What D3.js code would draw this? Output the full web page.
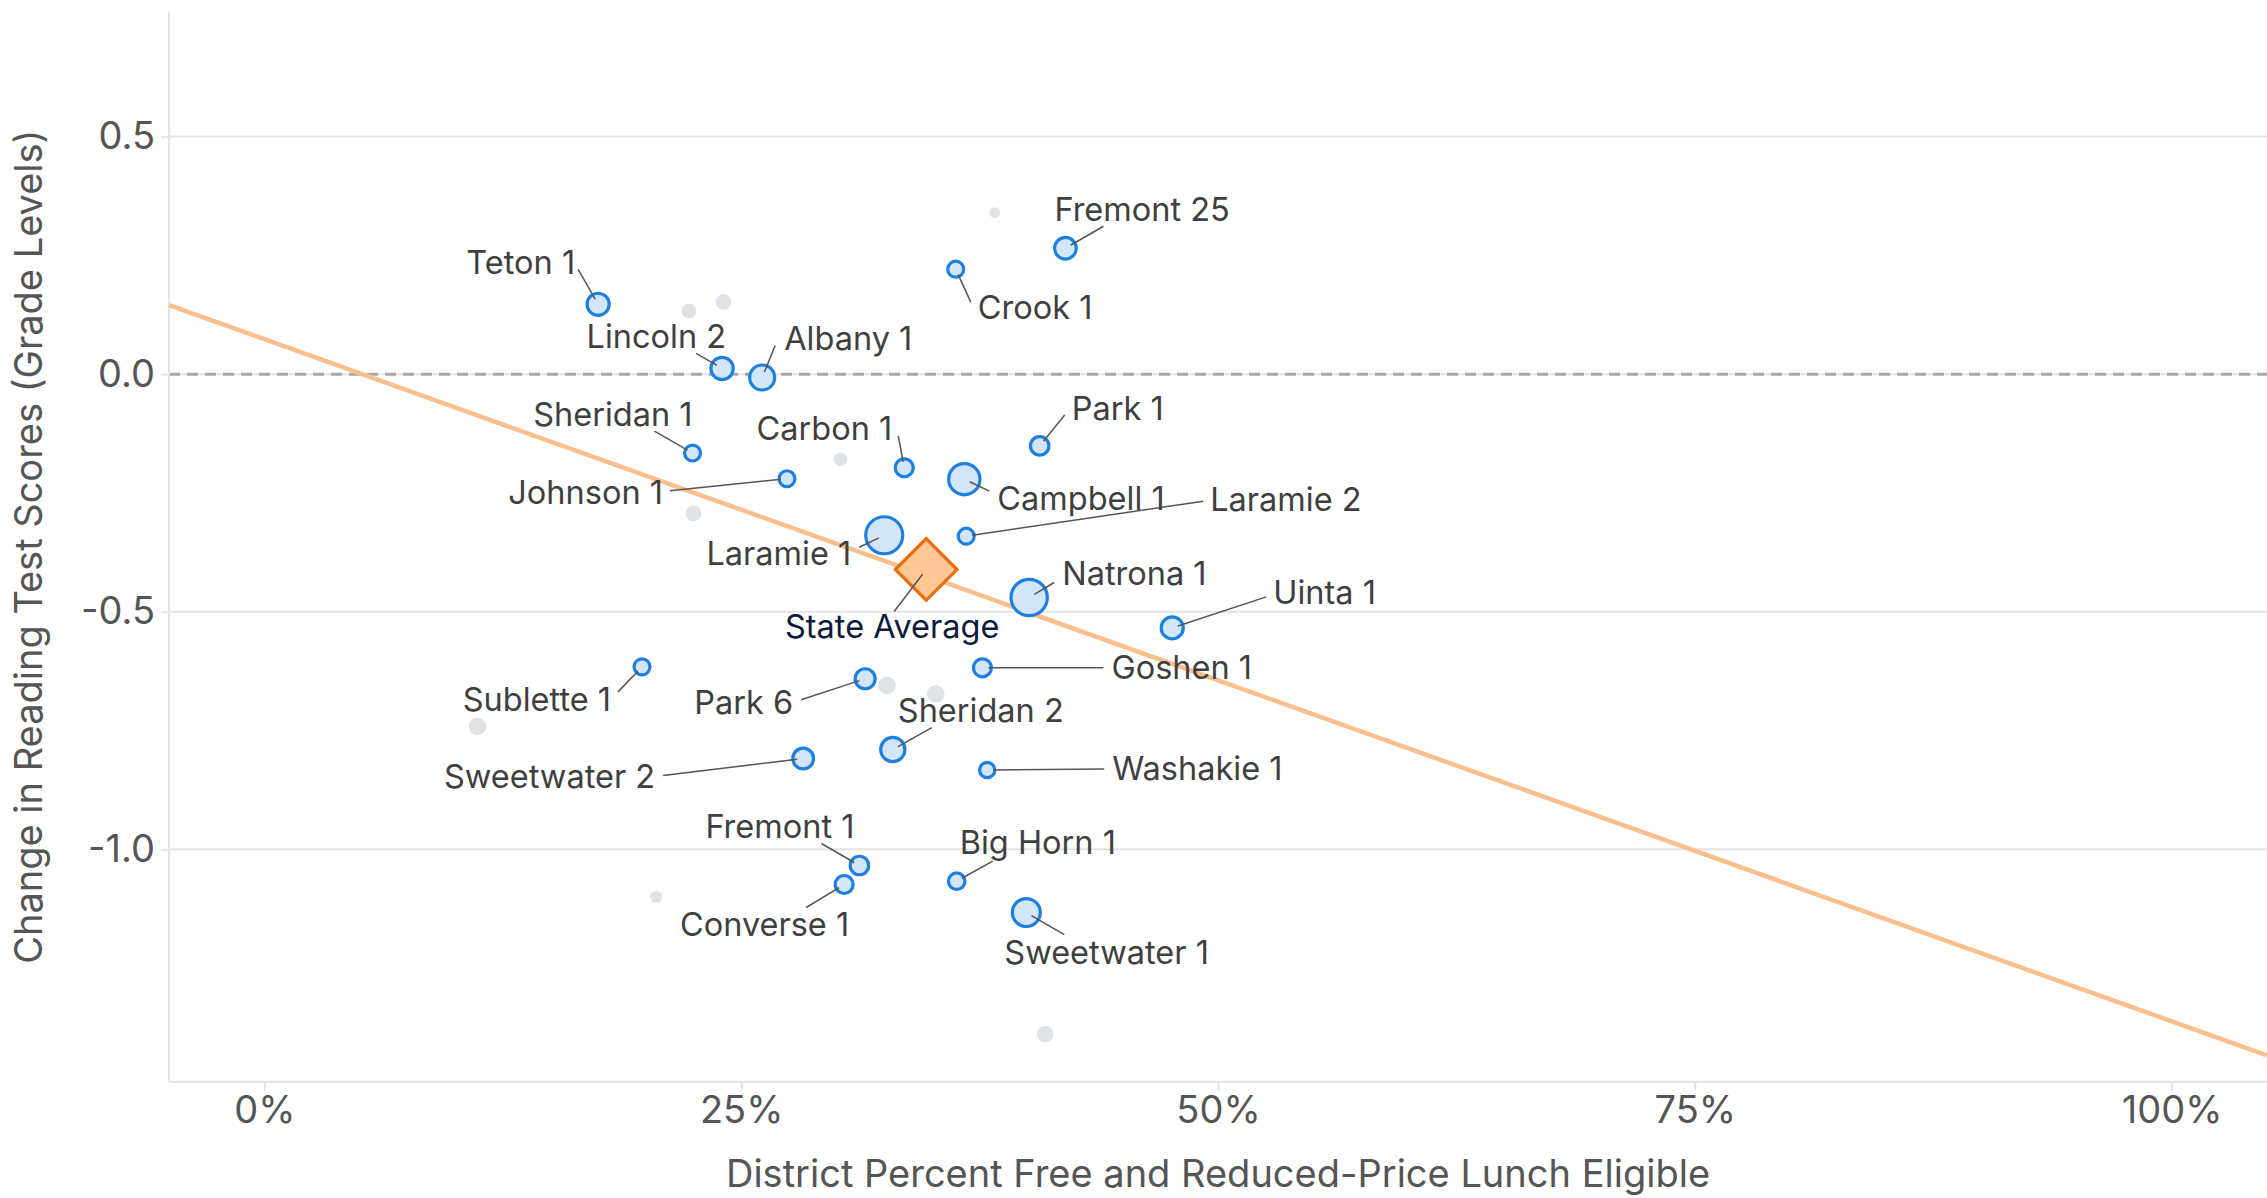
<!DOCTYPE html>
<html>
<head>
<meta charset="utf-8">
<title>Reading score change vs FRL</title>
<script src="https://d3js.org/d3.v7.min.js"></script>
<style>
  body { margin: 0; background: #fff; font-family: Inter, "Noto Sans", sans-serif; }
  svg { display: block; }
  .tick text { font-family: Inter, sans-serif; font-size: 38px; fill: #555; }
  .axis-title { font-size: 38px; fill: #555; }
  .lbl { font-size: 32.5px; fill: #3f3f3f; }
</style>
</head>
<body>
<div id="chart"></div>
<script>
// labelled districts
var districts = ["Teton 1", "Lincoln 2", "Albany 1", "Sheridan 1", "Johnson 1", "Carbon 1",
  "Crook 1", "Fremont 25", "Park 1", "Campbell 1", "Laramie 2", "Laramie 1", "Natrona 1",
  "Uinta 1", "Goshen 1", "Washakie 1", "Sheridan 2", "Park 6", "Sublette 1", "Sweetwater 2",
  "Fremont 1", "Converse 1", "Big Horn 1", "Sweetwater 1"];
var frl = [0.175, 0.240, 0.261, 0.2245, 0.274, 0.3355,
  0.3625, 0.420, 0.4065, 0.367, 0.368, 0.325, 0.401,
  0.476, 0.3765, 0.379, 0.3295, 0.315, 0.198, 0.2825,
  0.312, 0.304, 0.363, 0.3995];
var scoreChange = [0.147, 0.012, -0.007, -0.166, -0.220, -0.197,
  0.221, 0.265, -0.151, -0.221, -0.341, -0.339, -0.470,
  -0.534, -0.618, -0.833, -0.790, -0.641, -0.616, -0.809,
  -1.034, -1.074, -1.067, -1.133];
var enrollment = [5000, 5100, 6400, 2600, 2600, 3300,
  2600, 4800, 3500, 10000, 2600, 14000, 13500,
  5000, 3300, 2400, 6000, 4100, 2600, 4400,
  3500, 3300, 2800, 8000];

// other (unlabelled) districts
var otherFrl = [0.383, 0.2226, 0.2407, 0.302, 0.225, 0.3265, 0.352, 0.1118, 0.2054, 0.4094];
var otherChange = [0.340, 0.133, 0.152, -0.179, -0.293, -0.655, -0.673, -0.741, -1.100, -1.389];
var otherEnrollment = [1200, 2200, 2500, 1900, 2500, 3200, 3200, 3200, 1500, 2800];

// state average and fitted trend
var stateFrl = 0.347;
var stateChange = -0.411;
var trendIntercept = 0.0736;
var trendSlope = -1.4355;

var xTicks = [0, 0.25, 0.5, 0.75, 1];
var yTicks = [0.5, 0, -0.5, -1.0];

var width = 2267, height = 1198;
var plotLeft = 169, plotTop = 11.6, plotBottom = 1081.7;

// label placement: anchor, text dx/dy, leader start lx/ly (px from point)
var labelPos = {
  "Teton 1":      ["end",   -23, -30, -20, -35],
  "Lincoln 2":    ["end",     4, -20, -26, -15],
  "Albany 1":     ["start",  22, -27,  13, -32],
  "Sheridan 1":   ["end",     0, -27, -38, -22],
  "Johnson 1":    ["end",  -124,  25,-117,  12],
  "Carbon 1":     ["end",   -12, -28,  -6, -32],
  "Crook 1":      ["start",  22,  50,  15,  33],
  "Fremont 25":   ["start", -11, -27,  38, -22],
  "Park 1":       ["start",  32, -26,  25, -31],
  "Campbell 1":   ["start",  33,  31,  25,  12],
  "Laramie 2":    ["start", 244, -25, 237, -35],
  "Laramie 1":    ["end",   -33,  30, -25,  12],
  "Natrona 1":    ["start",  33, -12,  25, -15],
  "Uinta 1":      ["start", 101, -24,  94, -31],
  "Goshen 1":     ["start", 129,  11, 121,   0],
  "Washakie 1":   ["start", 125,  10, 117,  -1],
  "Sheridan 2":   ["start",   5, -28,  39, -22],
  "Park 6":       ["end",   -72,  35, -64,  21],
  "Sublette 1":   ["end",   -31,  44, -24,  25],
  "Sweetwater 2": ["end",  -148,  29,-140,  17],
  "Fremont 1":    ["end",    -5, -27, -38, -22],
  "Converse 1":   ["end",     5,  51, -38,  23],
  "Big Horn 1":   ["start",   3, -27,  36, -20],
  "Sweetwater 1": ["start", -22,  51,  38,  22],
  "State Average":["middle",-34,  69, -32,  42]
};

var svg = d3.select("#chart").append("svg")
  .attr("width", width)
  .attr("height", height);

var x = d3.scaleLinear().domain([-0.05, 1.05]).range([plotLeft, width]);
var y = d3.scaleLinear().domain([-1.489, 0.763]).range([plotBottom, plotTop]);
var r = d3.scaleSqrt().domain([0, 14000]).range([0, 18.5]);

// grid
svg.append("g").selectAll("line")
  .data(yTicks)
  .enter().append("line")
    .attr("x1", plotLeft).attr("x2", width)
    .attr("y1", function(d) { return y(d); })
    .attr("y2", function(d) { return y(d); })
    .attr("stroke", "#e4e4e4")
    .attr("stroke-width", 2);

svg.append("line")
  .attr("x1", plotLeft).attr("x2", width)
  .attr("y1", y(0)).attr("y2", y(0))
  .attr("stroke", "#a8a8a8")
  .attr("stroke-width", 3)
  .attr("stroke-dasharray", "11,7");

// axes
var xAxis = svg.append("g")
  .attr("transform", "translate(0," + plotBottom + ")")
  .call(d3.axisBottom(x).tickValues(xTicks).tickFormat(d3.format(".0%"))
    .tickSize(9).tickPadding(5));
var yAxis = svg.append("g")
  .attr("transform", "translate(" + plotLeft + ",0)")
  .call(d3.axisLeft(y).tickValues(yTicks)
    .tickFormat(function(d) { return d.toFixed(1); })
    .tickSize(8).tickPadding(6));
[xAxis, yAxis].forEach(function(a) {
  a.select(".domain").attr("stroke", "#e4e4e4").attr("stroke-width", 2);
  a.selectAll(".tick line").attr("stroke", "#e4e4e4").attr("stroke-width", 2);
});
yAxis.select(".domain").attr("d", "M0," + plotTop + "V" + plotBottom);
xAxis.select(".domain").attr("d", "M" + plotLeft + ",0H" + width);

svg.append("text")
  .attr("class", "axis-title")
  .attr("x", (plotLeft + width) / 2)
  .attr("y", 1187)
  .attr("text-anchor", "middle")
  .text("District Percent Free and Reduced-Price Lunch Eligible");

svg.append("text")
  .attr("class", "axis-title")
  .attr("transform", "translate(42," + (plotTop + plotBottom) / 2 + ") rotate(-90)")
  .attr("text-anchor", "middle")
  .text("Change in Reading Test Scores (Grade Levels)");

// unlabelled districts
svg.append("g").selectAll("circle")
  .data(otherFrl)
  .enter().append("circle")
    .attr("cx", function(d) { return x(d); })
    .attr("cy", function(d, i) { return y(otherChange[i]); })
    .attr("r", function(d, i) { return r(otherEnrollment[i]); })
    .attr("fill", "#dfe3e8");

// trend line
svg.append("line")
  .attr("x1", x(-0.05)).attr("y1", y(trendIntercept + trendSlope * -0.05))
  .attr("x2", x(1.05)).attr("y2", y(trendIntercept + trendSlope * 1.05))
  .attr("stroke", "#fbbf8d")
  .attr("stroke-width", 4.5);

var pts = districts.map(function(name, i) {
  return {name: name, cx: x(frl[i]), cy: y(scoreChange[i]), r: r(enrollment[i])};
});
pts.push({name: "State Average", cx: x(stateFrl), cy: y(stateChange), r: 0});

svg.append("g").selectAll("circle")
  .data(pts.filter(function(d) { return d.r > 0; }))
  .enter().append("circle")
    .attr("cx", function(d) { return d.cx; })
    .attr("cy", function(d) { return d.cy; })
    .attr("r", function(d) { return d.r; })
    .attr("fill", "#d3e5f8")
    .attr("stroke", "#1f7fe0")
    .attr("stroke-width", 3.2);

svg.append("path")
  .attr("d", d3.symbol(d3.symbolSquare, 1900)())
  .attr("transform", "translate(" + x(stateFrl) + "," + y(stateChange) + ") rotate(45)")
  .attr("fill", "#fec894")
  .attr("stroke", "#ef6c0d")
  .attr("stroke-width", 3.2);

// leader lines
svg.append("g").selectAll("line")
  .data(pts)
  .enter().append("line")
    .each(function(d) {
      var p = labelPos[d.name];
      var len = Math.sqrt(p[3] * p[3] + p[4] * p[4]);
      var k = 6 / len;
      d3.select(this)
        .attr("x1", d.cx + p[3]).attr("y1", d.cy + p[4])
        .attr("x2", d.cx + p[3] * k).attr("y2", d.cy + p[4] * k);
    })
    .attr("stroke", "#555")
    .attr("stroke-width", 1.5);

svg.append("g").selectAll("text")
  .data(pts)
  .enter().append("text")
    .attr("class", "lbl")
    .attr("x", function(d) { return d.cx + labelPos[d.name][1]; })
    .attr("y", function(d) { return d.cy + labelPos[d.name][2]; })
    .attr("text-anchor", function(d) { return labelPos[d.name][0]; })
    .style("fill", function(d) { return d.name == "State Average" ? "#0e1a3c" : null; })
    .text(function(d) { return d.name; });
</script>
</body>
</html>
